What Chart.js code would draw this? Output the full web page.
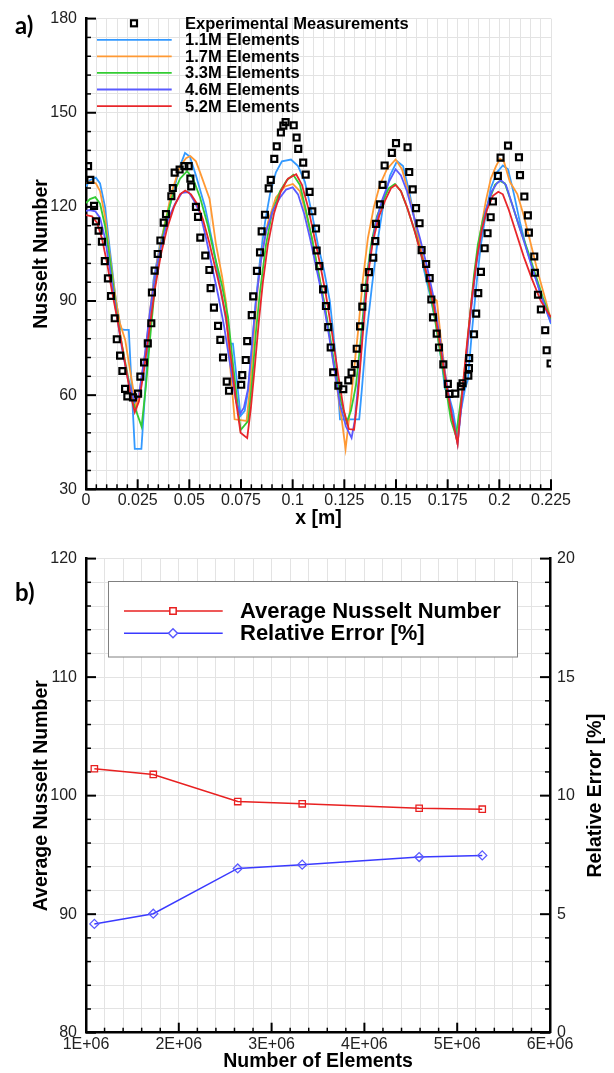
<!DOCTYPE html>
<html>
<head>
<meta charset="utf-8">
<script src="https://cdn.jsdelivr.net/npm/chart.js@4.4.1/dist/chart.umd.min.js"></script>
<style>
body{margin:0;background:#fff;}
canvas{position:absolute;left:0;}
#chartA{top:0;}
#chartB{top:540px;}
</style>
</head>
<body>
<canvas id="chartA" width="614" height="530"></canvas>
<canvas id="chartB" width="614" height="533"></canvas>
<script>
const FONT="'Liberation Sans', Arial, sans-serif";

// a) experimental measurements, x [m] and Nusselt number
const expX=[0.0010,0.0021,0.0039,0.0048,0.0061,0.0077,0.0091,0.0106,0.0121,0.0139,0.0149,0.0165,0.0176,0.0189,0.0200,0.0227,0.0252,0.0263,0.0281,0.0299,
  0.0316,0.0319,0.0332,0.0347,0.0360,0.0376,0.0387,0.0413,0.0420,0.0429,0.0453,0.0476,0.0497,0.0505,0.0509,0.0532,0.0542,0.0553,0.0577,0.0597,
  0.0603,0.0619,0.0639,0.0650,0.0663,0.0681,0.0692,0.0751,0.0756,0.0773,0.0780,0.0802,0.0809,0.0827,0.0842,0.0850,0.0866,0.0884,0.0894,0.0911,
  0.0923,0.0943,0.0955,0.0966,0.1005,0.1019,0.1027,0.1051,0.1063,0.1082,0.1095,0.1113,0.1116,0.1129,0.1147,0.1161,0.1172,0.1184,0.1196,0.1221,
  0.1245,0.1269,0.1285,0.1301,0.1310,0.1326,0.1337,0.1348,0.1369,0.1390,0.1400,0.1403,0.1422,0.1435,0.1445,0.1480,0.1500,0.1556,0.1564,0.1581,
  0.1597,0.1614,0.1624,0.1646,0.1663,0.1671,0.1679,0.1697,0.1708,0.1729,0.1751,0.1758,0.1787,0.1814,0.1822,0.1850,0.1853,0.1854,0.1877,0.1888,
  0.1898,0.1911,0.1929,0.1943,0.1958,0.1969,0.1993,0.2006,0.2042,0.2095,0.2100,0.2121,0.2138,0.2143,0.2169,0.2172,0.2187,0.2201,0.2222,0.2229,0.2248];
const expNu=[133.0,128.6,120.3,115.4,112.4,108.9,102.7,97.2,91.6,84.5,77.8,72.6,67.7,62.0,59.6,59.3,60.5,65.9,70.4,76.5,
  82.9,92.7,99.7,105.0,109.3,115.0,117.7,123.4,126.0,130.9,131.9,133.0,133.0,129.0,126.5,120.0,116.8,110.2,104.5,99.9,
  94.1,87.9,82.1,77.6,72.0,64.3,61.4,63.3,66.4,71.2,77.2,85.5,91.5,99.6,105.5,112.2,117.5,125.9,128.6,135.3,
  139.3,143.7,145.9,147.0,146.0,142.1,138.5,134.1,130.3,124.8,118.6,113.1,106.1,101.1,93.7,88.4,81.7,75.2,67.3,63.0,
  61.9,64.7,67.2,69.9,74.8,81.9,88.2,94.2,99.2,103.8,109.1,114.6,120.8,127.0,133.2,137.2,140.3,139.0,131.1,125.6,
  119.6,114.8,106.2,101.8,97.3,90.5,84.8,79.6,75.2,69.8,63.6,60.4,60.5,62.8,63.8,66.2,68.6,71.8,79.4,86.0,
  92.5,99.3,106.8,111.6,116.7,121.7,129.9,135.7,139.5,135.8,130.1,123.3,117.3,111.8,104.2,99.0,92.0,87.3,80.7,74.3,70.1];

// a) 1.1M elements
const m11X=[0,0.0019,0.0048,0.0068,0.0092,0.0116,0.0145,0.0169,0.0187,0.0207,0.0236,0.0268,0.0295,0.0326,0.0358,0.0397,0.0431,0.0455,0.0479,0.0503,
  0.0532,0.0576,0.0614,0.0648,0.0677,0.0695,0.0711,0.0748,0.0768,0.0784,0.0803,0.0822,0.0842,0.0866,0.0890,0.0919,0.0948,0.0992,0.1026,0.1059,
  0.1093,0.1122,0.1151,0.1180,0.1209,0.1229,0.1322,0.1335,0.1355,0.1384,0.1413,0.1442,0.1471,0.1505,0.1534,0.1567,0.1601,0.1635,0.1664,0.1693,
  0.1722,0.1737,0.1751,0.1776,0.1798,0.1814,0.1834,0.1848,0.1867,0.1892,0.1911,0.1935,0.1959,0.1988,0.2017,0.2042,0.2071,0.2100,0.2134,0.2167,0.2201,0.2250];
const m11Nu=[126.5,128.5,129.3,127.5,120,106,90,81,80.8,80.8,42.9,42.9,70,96.4,108,118,127,133,137.2,136,
  130,120,108,95,84,76.4,76.4,53.4,55,61.2,75,90,103,115,124,131,134.5,135.1,133,128,
  118,108,100,90,72,52.3,52.3,62,78,95,110,122,130,134.6,133,124,112,100,92,83,
  70,62,61,55,46,55,62,65,80,97,108,118,126,131,133.2,132,124,115,106,99,92,82.7];

// a) 1.7M elements
const m17X=[0,0.0029,0.0048,0.0068,0.0092,0.0116,0.0145,0.0164,0.0190,0.0213,0.0242,0.0261,0.0290,0.0319,0.0348,0.0382,0.0416,0.0455,0.0484,0.0505,
  0.0532,0.0552,0.0598,0.0629,0.0658,0.0679,0.0687,0.0719,0.0777,0.0793,0.0813,0.0832,0.0851,0.0880,0.0919,0.0963,0.1001,0.1035,0.1064,0.1093,
  0.1122,0.1151,0.1180,0.1209,0.1238,0.1256,0.1272,0.1292,0.1316,0.1340,0.1364,0.1393,0.1422,0.1456,0.1498,0.1529,0.1558,0.1587,0.1616,0.1645,
  0.1664,0.1680,0.1698,0.1717,0.1742,0.1766,0.1798,0.1819,0.1838,0.1863,0.1887,0.1911,0.1935,0.1959,0.1984,0.2003,0.2022,0.2051,0.2087,0.2119,
  0.2153,0.2187,0.2221,0.2250];
const m17Nu=[127.6,128,127.5,125,117,104,90,83,77.5,68,56.5,62,75,92,104,115,125,133,135.5,136.2,
  134.5,131,122.5,108,98,89,77.5,52.3,51.8,62,80,95,105,115,123,126.5,127.3,125,118,110,
  100,90,78,65,52,42.8,52,65,80,97,110,120,127,132,135.1,132,125,117,108,100,
  94,91.1,90,78,65,55,44.5,60,72,88,102,113,122,129,133,135.3,134.5,128,124.1,117,
  108,99,91,84];

// a) 3.3M elements
const m33X=[0,0.0019,0.0045,0.0068,0.0092,0.0116,0.0145,0.0174,0.0203,0.0232,0.0269,0.0290,0.0310,0.0334,0.0358,0.0387,0.0416,0.0455,0.0489,0.0518,
  0.0552,0.0590,0.0624,0.0658,0.0687,0.0711,0.0748,0.0785,0.0803,0.0822,0.0842,0.0871,0.0900,0.0939,0.0972,0.1003,0.1035,0.1064,0.1093,0.1122,
  0.1151,0.1180,0.1209,0.1234,0.1261,0.1282,0.1306,0.1330,0.1355,0.1379,0.1408,0.1437,0.1466,0.1495,0.1524,0.1558,0.1592,0.1626,0.1655,0.1684,
  0.1713,0.1742,0.1766,0.1790,0.1809,0.1834,0.1853,0.1877,0.1896,0.1921,0.1950,0.1979,0.2003,0.2027,0.2061,0.2100,0.2138,0.2177,0.2211,0.2250];
const m33Nu=[121.2,122.5,123.1,121,114,103,88,76,66,57,50,63,78,95,106,116,123,129,131.4,129,
  123,114,104,95,85,70,48.9,51.8,64,80,93,108,118,125,128.5,130.2,127,119,110,100,
  90,79,67,58,51.3,55,63,78,96,108,117,122,126,127.3,125,119,112,104,96,86,
  74,62,52,47,56,68,82,98,108,116,122,127,128.3,127.5,121,113,106,98,91,84];

// a) 4.6M elements
const m46X=[0,0.0019,0.0045,0.0068,0.0092,0.0116,0.0145,0.0174,0.0203,0.0236,0.0256,0.0285,0.0310,0.0339,0.0368,0.0397,0.0431,0.0464,0.0497,0.0522,
  0.0552,0.0581,0.0610,0.0639,0.0668,0.0697,0.0726,0.0745,0.0764,0.0784,0.0803,0.0822,0.0847,0.0871,0.0905,0.0939,0.0968,0.1000,0.1026,0.1055,
  0.1084,0.1113,0.1142,0.1171,0.1200,0.1229,0.1258,0.1285,0.1301,0.1326,0.1350,0.1374,0.1403,0.1432,0.1466,0.1498,0.1524,0.1553,0.1582,0.1616,
  0.1650,0.1679,0.1708,0.1737,0.1766,0.1798,0.1819,0.1838,0.1863,0.1887,0.1911,0.1935,0.1964,0.1988,0.2008,0.2032,0.2061,0.2095,0.2129,0.2167,0.2206,0.2250];
const m46Nu=[118.7,119,118.6,116.5,110,100,87,75,65,57.8,60,73,87,100,109,116,121,124.5,124.7,122,
  118,110,101,92,82,70,58,54,56,62,76,90,103,112,119,123,125.5,126.2,124,118,
  110,101,92,81,69,57,50,46.4,52,70,90,104,115,122,128,132,130,125,118,110,
  101,92,80,67,56,44.5,58,70,87,101,111,119,125,127.5,128.5,127,121,114,107,99,91,83];

// a) 5.2M elements
const m52X=[0,0.0029,0.0053,0.0077,0.0102,0.0126,0.0155,0.0184,0.0213,0.0236,0.0256,0.0281,0.0305,0.0334,0.0363,0.0392,0.0426,0.0455,0.0480,0.0508,
  0.0537,0.0566,0.0595,0.0624,0.0653,0.0677,0.0701,0.0726,0.0748,0.0780,0.0798,0.0818,0.0837,0.0856,0.0880,0.0910,0.0943,0.0977,0.1017,0.1045,
  0.1074,0.1103,0.1132,0.1161,0.1190,0.1219,0.1248,0.1272,0.1297,0.1316,0.1340,0.1364,0.1388,0.1418,0.1447,0.1476,0.1498,0.1524,0.1553,0.1587,
  0.1621,0.1655,0.1684,0.1713,0.1742,0.1771,0.1798,0.1819,0.1843,0.1867,0.1892,0.1916,0.1940,0.1969,0.1995,0.2017,0.2046,0.2080,0.2119,0.2158,0.2201,0.2250];
const m52Nu=[117.4,117,115,110,102,93,83,72,61,54.6,58,68,80,94,105,113,120,124,125.2,124,
  121,116,109,101,93,85,72,58,48,46.3,56,70,84,96,108,118,125,129,130.4,127,
  120,111,102,92,80,67,55,49.2,49,60,80,98,109,117,122,126,127,125,120,113,
  105,97,88,76,64,53,44.5,60,76,91,104,113,119,123.5,124.8,124,119,112,104,97,90,84.8];

// b) mesh study
const meshSize=[1.09e6,1.725e6,2.635e6,3.33e6,4.59e6,5.27e6];
const avgNu=[102.27,101.79,99.5,99.31,98.94,98.86];
const relErr=[4.59,5.02,6.93,7.09,7.41,7.48];

const pts=(xs,ys)=>xs.map((x,i)=>({x:x,y:ys[i]}));

function meshLine(label,xs,ys,color,order){
  return {label:label,data:pts(xs,ys),showLine:true,borderColor:color,backgroundColor:color,
    borderWidth:1.8,pointRadius:0,tension:0,order:order};
}

function tickMarks(ctx,scale,from,to,step,every,side){
  ctx.save();
  ctx.strokeStyle='#000';
  const n=Math.round((to-from)/step);
  for(let i=0;i<=n;i++){
    const p=scale.getPixelForValue(from+i*step);
    const major=i%every===0, len=major?10:5;
    ctx.lineWidth=major?2:1.5;
    ctx.beginPath();
    if(side==='left'){ctx.moveTo(scale.right,p);ctx.lineTo(scale.right+len,p);}
    else if(side==='right'){ctx.moveTo(scale.left,p);ctx.lineTo(scale.left-len,p);}
    else{ctx.moveTo(p,scale.top);ctx.lineTo(p,scale.top-len);}
    ctx.stroke();
  }
  ctx.restore();
}

const tickFont={family:FONT,size:16};
const titleFont={family:FONT,size:19.5,weight:'bold'};
const gridColor='#e3e3e3';

// ---------- chart a ----------
const decorA={
  id:'decorA',
  beforeDatasetsDraw(chart){
    tickMarks(chart.ctx,chart.scales.y,30,180,6,5,'left');
    tickMarks(chart.ctx,chart.scales.x,0,0.225,0.005,5,'bottom');
  },
  afterDraw(chart){
    const ctx=chart.ctx;
    ctx.save();
    ctx.font='bold 16.5px '+FONT;
    ctx.textBaseline='middle';
    chart.data.datasets.forEach((ds,i)=>{
      const y=23.3+i*16.55;
      if(i===0){
        ctx.strokeStyle='#000';ctx.lineWidth=2.2;
        ctx.strokeRect(134-3,y-3,6,6);
      }else{
        ctx.strokeStyle=ds.borderColor;ctx.lineWidth=1.8;
        ctx.beginPath();ctx.moveTo(97,y);ctx.lineTo(171.7,y);ctx.stroke();
      }
      ctx.fillStyle='#000';
      ctx.fillText(ds.label,185,y+1);
    });
    ctx.font='bold 24px Lato, sans-serif';
    ctx.textBaseline='alphabetic';
    ctx.fillText('a)',15,34);
    ctx.restore();
  }
};

new Chart('chartA',{
  type:'scatter',
  data:{datasets:[
    {label:'Experimental Measurements',data:pts(expX,expNu),pointStyle:'rect',pointRadius:4.2,
      pointBorderWidth:2.2,borderColor:'#000',backgroundColor:'rgba(0,0,0,0)',showLine:false,order:0},
    meshLine('1.1M Elements',m11X,m11Nu,'#3399ff',5),
    meshLine('1.7M Elements',m17X,m17Nu,'#ff9933',4),
    meshLine('3.3M Elements',m33X,m33Nu,'#33cc33',3),
    meshLine('4.6M Elements',m46X,m46Nu,'#5a5aff',2),
    meshLine('5.2M Elements',m52X,m52Nu,'#e8262a',1)
  ]},
  options:{
    responsive:false,animation:false,
    layout:{padding:{left:0,right:63,top:12.3,bottom:0}},
    plugins:{legend:{display:false},tooltip:{enabled:false}},
    scales:{
      x:{type:'linear',min:0,max:0.225,
        ticks:{stepSize:0.005,autoSkip:false,maxRotation:0,padding:2,color:'#222',font:tickFont,
          callback:v=>Math.round(v*1000)%25===0?String(Math.round(v*1000)/1000):''},
        grid:{color:gridColor,drawTicks:false},
        border:{color:'#000',width:2.5},
        title:{display:true,text:'x [m]',color:'#000',font:titleFont,padding:{top:0,bottom:0}},
        afterFit:s=>{s.height=40.7;}},
      y:{type:'linear',min:30,max:180,
        ticks:{stepSize:6,autoSkip:false,padding:9,color:'#222',font:tickFont,
          callback:v=>v%30===0?String(v):''},
        grid:{color:gridColor,drawTicks:false},
        border:{color:'#000',width:2.5},
        title:{display:true,text:'Nusselt Number',color:'#000',font:titleFont,padding:{top:30,bottom:0}},
        afterFit:s=>{s.width=86;}}
    }
  },
  plugins:[decorA]
});

// ---------- chart b ----------
const decorB={
  id:'decorB',
  beforeDatasetsDraw(chart){
    tickMarks(chart.ctx,chart.scales.y,80,120,2,5,'left');
    tickMarks(chart.ctx,chart.scales.y2,0,20,1,5,'right');
    tickMarks(chart.ctx,chart.scales.x,1e6,6e6,2e5,5,'bottom');
  },
  afterDraw(chart){
    const ctx=chart.ctx, a=chart.chartArea;
    ctx.save();
    // legend box
    ctx.fillStyle='#fff';ctx.fillRect(108.5,41.5,409,75.5);
    ctx.strokeStyle='#808080';ctx.lineWidth=1;ctx.strokeRect(108.5,41.5,409,75.5);
    ctx.font='bold 22px '+FONT;
    ctx.textBaseline='middle';
    chart.data.datasets.forEach((ds,i)=>{
      const y=71+i*22.3;
      ctx.strokeStyle=ds.borderColor;ctx.lineWidth=1.5;
      ctx.beginPath();ctx.moveTo(124,y);ctx.lineTo(222.7,y);ctx.stroke();
      ctx.fillStyle='#fff';
      ctx.strokeStyle=ds.pointBorderColor;
      Chart.helpers.drawPoint(ctx,{pointStyle:ds.pointStyle,radius:ds.pointRadius,borderWidth:1.3},173,y);
      ctx.fillStyle='#000';
      ctx.fillText(ds.label,240,y+1);
    });
    // right axis title
    ctx.save();
    ctx.translate(595.7,(a.top+a.bottom)/2);
    ctx.rotate(-Math.PI/2);
    ctx.textAlign='center';
    ctx.font='bold 19.5px '+FONT;
    ctx.fillText('Relative Error [%]',0,0);
    ctx.restore();
    ctx.font='bold 24px Lato, sans-serif';
    ctx.textBaseline='alphabetic';
    ctx.fillStyle='#000';
    ctx.fillText('b)',15,61);
    ctx.restore();
  }
};

new Chart('chartB',{
  type:'scatter',
  data:{datasets:[
    {label:'Average Nusselt Number',data:pts(meshSize,avgNu),yAxisID:'y',showLine:true,tension:0,
      borderColor:'#e82020',backgroundColor:'rgba(0,0,0,0)',borderWidth:1.5,
      pointStyle:'rect',pointRadius:4.5,pointBorderWidth:1.3,pointBorderColor:'#e82020'},
    {label:'Relative Error [%]',data:pts(meshSize,relErr),yAxisID:'y2',showLine:true,tension:0,
      borderColor:'#3a3aff',backgroundColor:'rgba(0,0,0,0)',borderWidth:1.5,
      pointStyle:'rectRot',pointRadius:4.5,pointBorderWidth:1.3,pointBorderColor:'#5a5aff'}
  ]},
  options:{
    responsive:false,animation:false,
    layout:{padding:{left:0,right:0,top:15.7,bottom:0}},
    plugins:{legend:{display:false},tooltip:{enabled:false}},
    scales:{
      x:{type:'linear',min:1e6,max:6e6,
        ticks:{stepSize:2e5,autoSkip:false,maxRotation:0,padding:2.7,color:'#222',font:tickFont,
          callback:v=>Math.round(v/2e5)%5===0?Math.round(v/1e6)+'E+06':''},
        grid:{color:gridColor,drawTicks:false},
        border:{color:'#000',width:2.5},
        title:{display:true,text:'Number of Elements',color:'#000',font:titleFont,padding:{top:0,bottom:0}},
        afterFit:s=>{s.height=40.3;}},
      y:{type:'linear',position:'left',min:80,max:120,
        ticks:{stepSize:2,autoSkip:false,padding:9,color:'#222',font:tickFont,
          callback:v=>v%10===0?String(v):''},
        grid:{color:gridColor,drawTicks:false},
        border:{color:'#000',width:2.5},
        title:{display:true,text:'Average Nusselt Number',color:'#000',font:titleFont,padding:{top:30,bottom:0}},
        afterFit:s=>{s.width=86;}},
      y2:{type:'linear',position:'right',min:0,max:20,
        ticks:{stepSize:5,padding:7,color:'#222',font:tickFont},
        grid:{display:false,drawTicks:false},
        border:{display:true,color:'#000',width:2.5},
        afterFit:s=>{s.width=64;}}
    }
  },
  plugins:[decorB]
});
</script>
</body>
</html>
